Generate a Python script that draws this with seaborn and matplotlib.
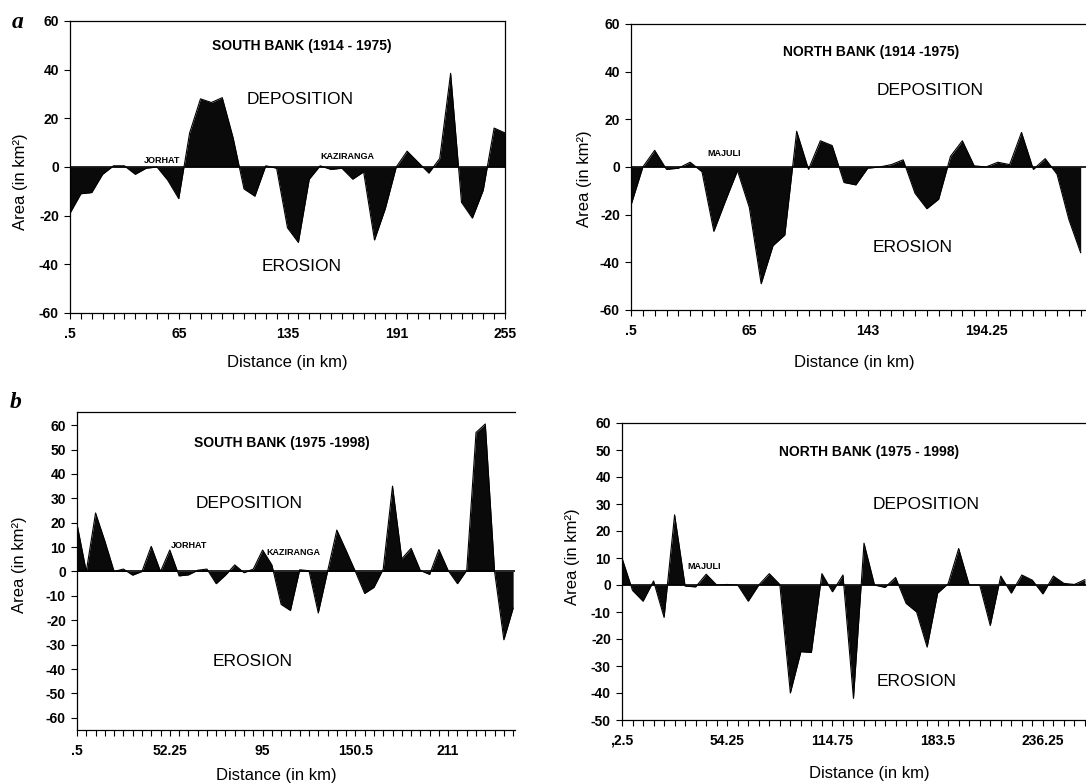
import numpy as np
import matplotlib
matplotlib.use('Agg')
import matplotlib.pyplot as plt
import seaborn as sns

# area of bank change per reach (km2)
south_1914_1975 = [-19, -11, -10.5, -3, 0.5, 0.5, -3, -0.5, 0, -5.5, -13, 14, 28, 26.5, 28.5,
                   12, -9, -12, 0.5, -0.5, -25, -31, -5, 0.5, -1, -0.5, -5, -2, -30, -17,
                   0, 6.5, 2, -2.5, 3.5, 38.5, -14.5, -21, -9.5, 16, 14]
north_1914_1975 = [-16, 0, 7, -1, -0.5, 2, -2, -27, -14, -1.5, -17, -49, -33, -28.5, 15,
                   -1, 11, 9, -6.5, -7.5, -0.5, 0, 1, 3, -11, -17.5, -13.5, 4.5, 11, 0.5,
                   0, 2, 1, 14.5, -1, 3.5, -3, -22, -36]
south_1975_1998 = [19.5, 0, 24, 12.5, 0, 1, -1.5, 0, 10.3, 0, 8.8, -1.8, -1.4, 0.5, 1, -5,
                   -1.5, 2.7, -0.5, 1, 8.8, 2.7, -13.5, -16, 0.7, 0.3, -17, 0, 17, 8.6,
                   0, -9, -6.5, 1, 35, 5.2, 9.5, 0.4, -1.2, 9, 0.4, -5, 0.5, 57, 60.5,
                   0, -28, -15]
north_1975_1998 = [10, -2, -6, 1.5, -12, 26, -0.4, -0.7, 4, 0, 0.2, 0, -6, 0, 4.2, 0.2,
                   -40, -24.7, -25, 4.2, -2.5, 3.7, -42, 15.5, 0, -0.9, 2.8, -6.8, -10, -23,
                   -3, 0.5, 13.5, 0, 0, -15, 3.3, -3, 3.7, 1.8, -3.3, 3.3, 0.6, 0.2, 2]

# distance labels shown on every 10th reach
south_1914_1975_ticks = ['.5', '65', '135', '191', '255']
north_1914_1975_ticks = ['.5', '65', '143', '194.25']
south_1975_1998_ticks = ['.5', '52.25', '95', '150.5', '211']
north_1975_1998_ticks = [',2.5', '54.25', '114.75', '183.5', '236.25']

sns.set_theme(style='ticks')
plt.rcParams['font.family'] = ['Liberation Sans', 'DejaVu Sans']
plt.rcParams['text.color'] = 'black'
plt.rcParams['axes.labelcolor'] = 'black'
plt.rcParams['xtick.color'] = 'black'
plt.rcParams['ytick.color'] = 'black'

W, H = 1086, 783
fig = plt.figure(figsize=(W / 100, H / 100), dpi=100)


def px_axes(left, top, right, bottom):
    return fig.add_axes([left / W, 1 - bottom / H, (right - left) / W, (bottom - top) / H])


def draw_panel(ax, values, ticklabels, ylim, yticks, xmax, cut):
    x = np.arange(len(values))
    v = np.array(values, dtype=float)
    ax.fill_between(x, v, 0, color='#0a0a0a', lw=0)
    sns.lineplot(x=x, y=v, ax=ax, color='black', lw=0.8)
    ax.axhline(0, color='black', lw=1.2)

    labels = [''] * len(values)
    for k, lab in enumerate(ticklabels):
        labels[10 * k] = lab
    ax.set_xticks(x)
    ax.set_xticklabels(labels, fontweight='bold', fontsize=10, color='black')
    ax.set_xlim(0, xmax)
    ax.set_yticks(yticks)
    ax.set_yticklabels([str(t) for t in yticks], fontweight='bold', fontsize=10, color='black')
    ax.set_ylim(*ylim)
    ax.tick_params(axis='both', direction='out', length=4, width=0.8, color='black', pad=4)
    ax.tick_params(axis='x', pad=6)
    for s in ax.spines.values():
        s.set_color('black')
        s.set_linewidth(0.9)
    if cut:
        ax.spines['right'].set_visible(False)
    ax.set_xlabel('Distance (in km)', fontsize=12, color='black')
    ax.set_ylabel('Area (in km²)', fontsize=12, color='black')


# a: 1914-1975
axA = px_axes(70, 21, 505, 313)
draw_panel(axA, south_1914_1975, south_1914_1975_ticks, (-60, 60), np.arange(-60, 61, 20), 40, False)
axA.text(21.3, 49.7, 'SOUTH BANK (1914 - 1975)', ha='center', va='center', fontsize=10, fontweight='bold')
axA.text(21.2, 27.6, 'DEPOSITION', ha='center', va='center', fontsize=12.5)
axA.text(21.3, -40.9, 'EROSION', ha='center', va='center', fontsize=12.5)
axA.text(8.5, 0.8, 'JORHAT', ha='center', va='bottom', fontsize=6.5, fontweight='bold')
axA.text(25.5, 2.5, 'KAZIRANGA', ha='center', va='bottom', fontsize=6.5, fontweight='bold')
axA.yaxis.set_label_coords(-0.097, 0.45)
axA.xaxis.set_label_coords(0.5, -0.145)

axB = px_axes(631, 24, 1086, 310)
draw_panel(axB, north_1914_1975, north_1914_1975_ticks, (-60, 60), np.arange(-60, 61, 20), 38.45, True)
axB.text(20.3, 48.4, 'NORTH BANK (1914 -1975)', ha='center', va='center', fontsize=10, fontweight='bold')
axB.text(25.3, 32, 'DEPOSITION', ha='center', va='center', fontsize=12.5)
axB.text(23.8, -33.7, 'EROSION', ha='center', va='center', fontsize=12.5)
axB.text(7.9, 5.7, 'MAJULI', ha='center', va='center', fontsize=6.5, fontweight='bold')
axB.yaxis.set_label_coords(-0.086, 0.46)
axB.xaxis.set_label_coords(0.49, -0.157)

# b: 1975-1998
axC = px_axes(77, 412, 515, 730)
draw_panel(axC, south_1975_1998, south_1975_1998_ticks, (-65, 65.4), np.arange(-60, 61, 10), 47.2, True)
axC.text(22.1, 52.5, 'SOUTH BANK (1975 -1998)', ha='center', va='center', fontsize=10, fontweight='bold')
axC.text(18.6, 27.8, 'DEPOSITION', ha='center', va='center', fontsize=12.5)
axC.text(18.9, -37, 'EROSION', ha='center', va='center', fontsize=12.5)
axC.text(10.1, 10.7, 'JORHAT', ha='left', va='center', fontsize=6.5, fontweight='bold')
axC.text(20.4, 7.6, 'KAZIRANGA', ha='left', va='center', fontsize=6.5, fontweight='bold')
axC.yaxis.set_label_coords(-0.114, 0.52)
axC.xaxis.set_label_coords(0.456, -0.12)

axD = px_axes(622, 423, 1086, 720)
draw_panel(axD, north_1975_1998, north_1975_1998_ticks, (-50, 60), np.arange(-50, 61, 10), 44.1, True)
axD.text(23.5, 49.4, 'NORTH BANK (1975 - 1998)', ha='center', va='center', fontsize=10, fontweight='bold')
axD.text(28.9, 29.9, 'DEPOSITION', ha='center', va='center', fontsize=12.5)
axD.text(28.0, -35.6, 'EROSION', ha='center', va='center', fontsize=12.5)
axD.text(7.8, 6.8, 'MAJULI', ha='center', va='center', fontsize=6.5, fontweight='bold')
axD.yaxis.set_label_coords(-0.09, 0.55)
axD.xaxis.set_label_coords(0.534, -0.155)

fig.text(18 / W, 1 - 22 / H, 'a', fontsize=17, fontweight='bold', fontstyle='italic',
         family='Liberation Serif', ha='center', va='center')
fig.text(16 / W, 1 - 402 / H, 'b', fontsize=17, fontweight='bold', fontstyle='italic',
         family='Liberation Serif', ha='center', va='center')

fig.savefig('out.png', dpi=100, facecolor='white')
